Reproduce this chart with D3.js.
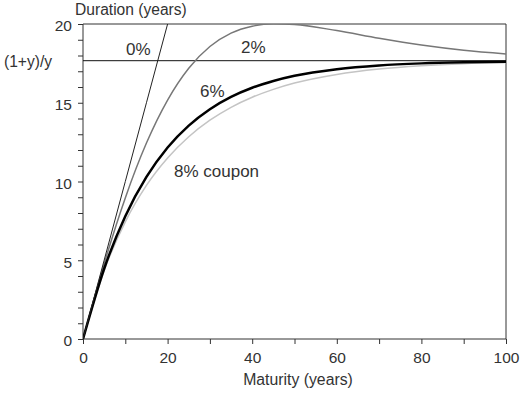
<!DOCTYPE html>
<html>
<head>
<meta charset="utf-8">
<style>
  body { margin: 0; background: #fff; }
  text { font-family: "Liberation Sans", Arial, sans-serif; fill: #333; }
</style>
</head>
<body>
<script src="https://cdnjs.cloudflare.com/ajax/libs/d3/7.8.5/d3.min.js"></script>
<script>
var maturity = [0, 5, 10, 15, 20, 25, 30, 35, 40, 45, 50, 60, 70, 80, 90, 100];
var dur0 = [0, 5, 10, 15, 20, 25];
var mat0 = [0, 5, 10, 15, 20, 25];
var dur2 = [0, 4.78, 8.96, 12.44, 15.17, 17.19, 18.57, 19.42, 19.86, 20.01, 19.97, 19.58, 19.09, 18.66, 18.33, 18.10];
var dur6 = [0, 4.46, 7.80, 10.29, 12.16, 13.55, 14.59, 15.37, 15.95, 16.38, 16.71, 17.13, 17.37, 17.50, 17.57, 17.61];
var dur8 = [0, 4.34, 7.44, 9.75, 11.49, 12.84, 13.89, 14.71, 15.35, 15.85, 16.25, 16.80, 17.14, 17.35, 17.48, 17.55];
var limit = 17.67; // (1+y)/y at y = 6%
var xTicks = [0, 20, 40, 60, 80, 100];
var yTicks = [0, 5, 10, 15, 20];

var W = 523, H = 395;
var m = {left: 83, right: 17, top: 24, bottom: 56};

var svg = d3.select("body").append("svg")
  .attr("width", W).attr("height", H);

var x = d3.scaleLinear().domain([0, 100]).range([m.left, W - m.right]);
var y = d3.scaleLinear().domain([0, 20]).range([H - m.bottom, m.top]);

svg.append("defs").append("clipPath").attr("id", "clip")
  .append("rect")
  .attr("x", x(0)).attr("y", y(20))
  .attr("width", x(100) - x(0)).attr("height", y(0) - y(20));

// frame: top and right
svg.append("line")
  .attr("x1", x(0)).attr("x2", x(100)).attr("y1", y(20)).attr("y2", y(20))
  .attr("stroke", "#333").attr("stroke-width", 1);
svg.append("line")
  .attr("x1", x(100)).attr("x2", x(100)).attr("y1", y(20)).attr("y2", y(0))
  .attr("stroke", "#333").attr("stroke-width", 1);

// axes, minor ticks every 10 / every 1
var xAxis = d3.axisBottom(x).tickValues(d3.range(0, 101, 10)).tickSize(5)
  .tickFormat(function(d){ return xTicks.indexOf(d) >= 0 ? d : ""; });
var yAxis = d3.axisLeft(y).tickValues(d3.range(0, 21, 1)).tickSize(5)
  .tickFormat(function(d){ return yTicks.indexOf(d) >= 0 ? d : ""; });

var gx = svg.append("g").attr("transform", "translate(0," + y(0) + ")").call(xAxis);
var gy = svg.append("g").attr("transform", "translate(" + x(0) + ",0)").call(yAxis);
[gx, gy].forEach(function(g){
  g.select(".domain").remove();
  g.selectAll(".tick line").attr("stroke", "#333");
  g.selectAll(".tick text").style("font-size", "15.5px").attr("fill", "#333")
    .style("font-family", "'Liberation Sans', Arial, sans-serif");
});
svg.append("line").attr("x1", x(0)).attr("x2", x(100)).attr("y1", y(0)).attr("y2", y(0)).attr("stroke", "#333");
svg.append("line").attr("x1", x(0)).attr("x2", x(0)).attr("y1", y(0)).attr("y2", y(20)).attr("stroke", "#333");
gx.selectAll(".tick text").attr("dy", "1.0em");
gy.selectAll(".tick text").attr("x", -11).attr("dy", "0.45em");

// (1+y)/y asymptote
svg.append("line")
  .attr("x1", x(0)).attr("x2", x(100)).attr("y1", y(limit)).attr("y2", y(limit))
  .attr("stroke", "#111").attr("stroke-width", 1);

var line = d3.line().curve(d3.curveMonotoneX)
  .x(function(d){ return x(d[0]); }).y(function(d){ return y(d[1]); });
var plot = svg.append("g").attr("clip-path", "url(#clip)");

function series(vals, mats, color, width){
  plot.append("path")
    .datum(mats.map(function(t, i){ return [t, vals[i]]; }))
    .attr("d", line)
    .attr("fill", "none")
    .attr("stroke", color)
    .attr("stroke-width", width);
}
series(dur8, maturity, "#c4c4c4", 1.5);
series(dur2, maturity, "#777", 1.5);
series(dur6, maturity, "#000", 2.5);
series(dur0, mat0, "#222", 1);

// labels
function label(t, px, py, size, anchor){
  svg.append("text").attr("x", px).attr("y", py)
    .attr("text-anchor", anchor || "start")
    .style("font-size", size + "px").text(t);
}
label("Duration (years)", 75, 15, 15.6);
label("(1+y)/y", 4, 67, 15.6);
label("0%", 126, 55, 17);
label("2%", 241, 53, 17);
label("6%", 200, 97, 17);
label("8% coupon", 174, 177, 17);
label("Maturity (years)", 298, 385, 15.8, "middle");
</script>
</body>
</html>
